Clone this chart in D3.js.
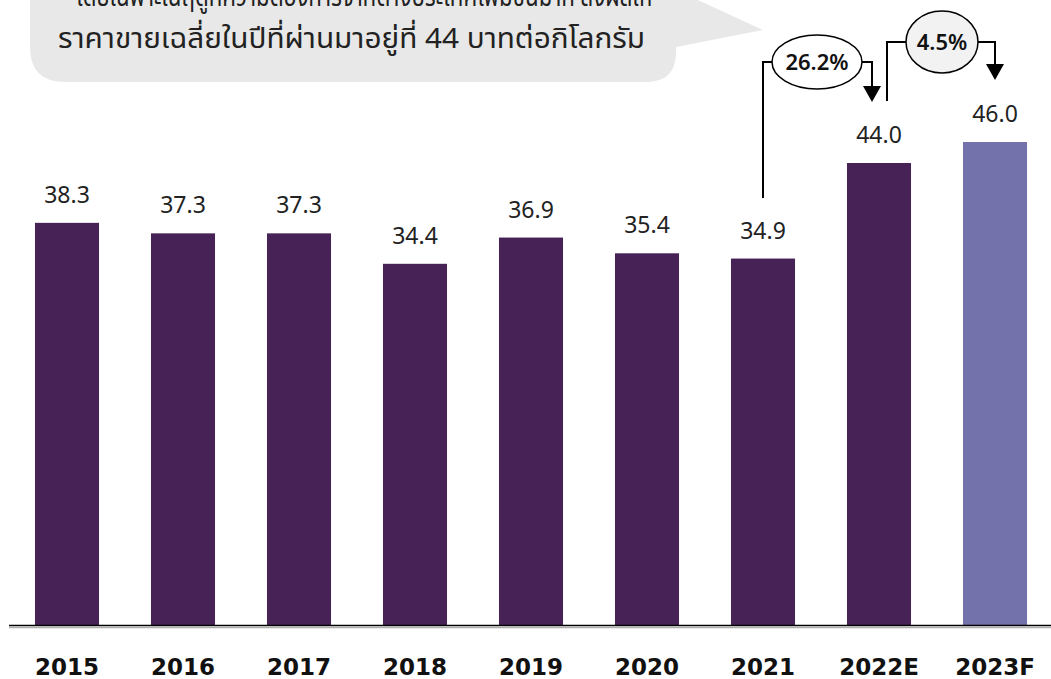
<!DOCTYPE html>
<html>
<head>
<meta charset="utf-8">
<script src="https://cdn.jsdelivr.net/npm/d3@7"></script>
<style>
  body { margin: 0; background: #fff; }
  svg { display: block; }
</style>
</head>
<body>
<svg id="chart" width="1051" height="679"></svg>
<script>
// data
const years = ["2015", "2016", "2017", "2018", "2019", "2020", "2021", "2022E", "2023F"];
const prices = [38.3, 37.3, 37.3, 34.4, 36.9, 35.4, 34.9, 44.0, 46.0];
const priceLabels = ["38.3", "37.3", "37.3", "34.4", "36.9", "35.4", "34.9", "44.0", "46.0"];
const growthFrom = ["2021", "2022E"];
const growthTo = ["2022E", "2023F"];
const growthLabels = ["26.2%", "4.5%"];
const noteLines = [
  "โดยเฉพาะในฤดูที่ความต้องการจากต่างประเทศเพิ่มขึ้นมาก ส่งผลให้",
  "ราคาขายเฉลี่ยในปีที่ผ่านมาอยู่ที่  44 บาทต่อกิโลกรัม"
];

const svg = d3.select("#chart");
const baseY = 625;

const x = d3.scaleBand().domain(years).range([9, 1053]).paddingInner(0.448).paddingOuter(0.224);
const y = d3.scaleLinear().domain([0, 46]).range([baseY, baseY - 46 * 10.5]);

// speech bubble
const bub = d3.path();
bub.moveTo(30, -20);
bub.lineTo(30, 47);
bub.quadraticCurveTo(30, 82, 65, 82);
bub.lineTo(646, 82);
bub.quadraticCurveTo(676, 82, 676, 52);
bub.lineTo(676, 47);
bub.lineTo(763, 30);
bub.lineTo(676, -10);
bub.lineTo(676, -20);
bub.closePath();
svg.append("path").attr("d", bub.toString()).attr("fill", "#e8e8e8");

const noteX = [76, 58];
const noteW = [576, 587];
svg.selectAll("text.note").data(noteLines).enter().append("text")
  .attr("class", "note")
  .attr("x", (d, i) => noteX[i])
  .attr("y", (d, i) => 6 + i * 42)
  .attr("font-family", "'Noto Sans Thai', 'Loma', 'Garuda', 'Noto Sans', sans-serif")
  .attr("font-size", 28)
  .attr("textLength", (d, i) => noteW[i])
  .attr("lengthAdjust", "spacingAndGlyphs")
  .attr("fill", "#222")
  .text(d => d);

// bars
svg.selectAll("rect.bar").data(years).enter().append("rect")
  .attr("class", "bar")
  .attr("x", d => x(d))
  .attr("y", (d, i) => y(prices[i]))
  .attr("width", x.bandwidth())
  .attr("height", (d, i) => baseY - y(prices[i]))
  .attr("fill", (d, i) => i === years.length - 1 ? "#7472aa" : "#472257");

// value labels
svg.selectAll("text.val").data(years).enter().append("text")
  .attr("class", "val")
  .attr("x", d => x(d) + x.bandwidth() / 2)
  .attr("y", (d, i) => y(prices[i]) - 20)
  .attr("text-anchor", "middle")
  .attr("font-family", "'Noto Sans', sans-serif")
  .attr("font-size", 23)
  .attr("fill", "#222")
  .text((d, i) => priceLabels[i]);

// baseline
svg.append("line").attr("x1", 9).attr("x2", 1051).attr("y1", baseY + 0.5).attr("y2", baseY + 0.5)
  .attr("stroke", "#000").attr("stroke-width", 1.6);
svg.append("line").attr("x1", 9).attr("x2", 1051).attr("y1", baseY + 2.5).attr("y2", baseY + 2.5)
  .attr("stroke", "#b0b0b0").attr("stroke-width", 1.4);

// x axis labels
const xAxis = svg.append("g").attr("transform", "translate(0," + baseY + ")")
  .call(d3.axisBottom(x).tickSize(0).tickPadding(0));
xAxis.select(".domain").remove();
xAxis.selectAll("text")
  .attr("y", 50)
  .attr("dy", 0)
  .attr("font-family", "'DejaVu Sans', sans-serif")
  .attr("font-weight", "bold")
  .attr("font-size", 23)
  .attr("fill", "#111");

// growth annotations
const cx = d => x(d) + x.bandwidth() / 2;
const anno = [
  { from: cx(growthFrom[0]), fromY: 198, top: 62, to: cx(growthTo[0]) - 7, tip: 102, ex: 817, rx: 45, ry: 27, fill: "#fff", label: growthLabels[0] },
  { from: cx(growthFrom[1]) + 8, fromY: 101, top: 42, to: cx(growthTo[1]), tip: 80, ex: 942, rx: 36, ry: 31, fill: "#f2f2f2", label: growthLabels[1] }
];
const ag = svg.append("g");
anno.forEach(a => {
  ag.append("path")
    .attr("d", "M" + a.from + "," + a.fromY + "V" + a.top + "H" + a.to + "V" + (a.tip - 14))
    .attr("fill", "none").attr("stroke", "#000").attr("stroke-width", 2);
  ag.append("path")
    .attr("d", "M" + (a.to - 9) + "," + (a.tip - 16) + "L" + (a.to + 9) + "," + (a.tip - 16) + "L" + a.to + "," + a.tip + "Z")
    .attr("fill", "#000");
  ag.append("ellipse")
    .attr("cx", a.ex).attr("cy", a.top).attr("rx", a.rx).attr("ry", a.ry)
    .attr("fill", a.fill).attr("stroke", "#000").attr("stroke-width", 1.5);
  ag.append("text")
    .attr("x", a.ex).attr("y", a.top + 8)
    .attr("text-anchor", "middle")
    .attr("font-family", "'Noto Sans', sans-serif")
    .attr("font-weight", 600)
    .attr("font-size", 22)
    .attr("fill", "#111")
    .text(a.label);
});
</script>
</body>
</html>
